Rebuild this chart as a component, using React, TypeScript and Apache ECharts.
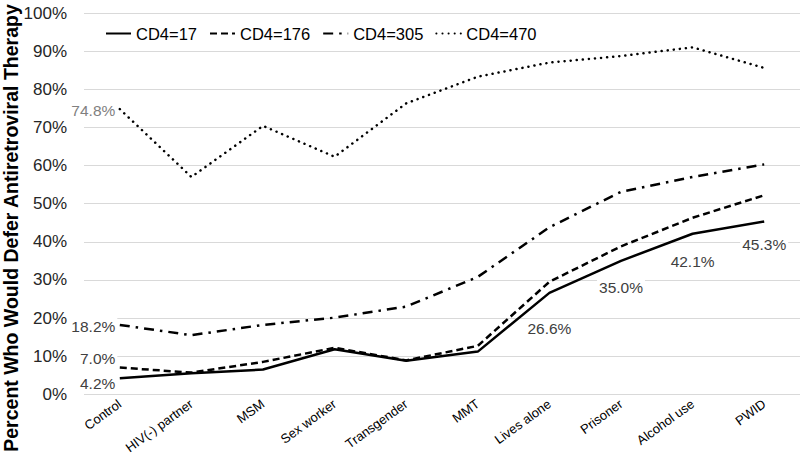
import React, { useEffect, useRef } from "react";
import * as echarts from "echarts";

const categories = ["Control", "HIV(-) partner", "MSM", "Sex worker", "Transgender", "MMT", "Lives alone", "Prisoner", "Alcohol use", "PWID"];
const seriesNames = ["CD4=17", "CD4=176", "CD4=305", "CD4=470"];
const cd4_17 = [4.2, 5.5, 6.5, 11.8, 8.8, 11.2, 26.6, 35.0, 42.1, 45.3];
const cd4_176 = [7.0, 5.7, 8.5, 12.2, 8.9, 12.7, 29.5, 38.8, 46.3, 52.2];
const cd4_305 = [18.2, 15.5, 18.2, 20.1, 23.0, 30.8, 43.8, 53.1, 57.0, 60.3];
const cd4_470 = [74.8, 57.0, 70.4, 62.3, 76.3, 83.3, 87.0, 88.7, 91.0, 85.6];
const yTicks = [0, 10, 20, 30, 40, 50, 60, 70, 80, 90, 100];

export default function App() {
  const ref = useRef<HTMLDivElement>(null);
  useEffect(() => {
    if (!ref.current) return;
    const chart = echarts.init(ref.current, undefined, { renderer: "svg" });
    const font = "Liberation Sans, Arial, sans-serif";
    const baseLabel = {
      fontFamily: font,
      fontSize: 15.5,
      color: "#404040",
      backgroundColor: "#ffffff",
      padding: [1, 2],
    };
    const leftLabel = (dy: number, color = "#404040") => ({
      show: true,
      position: "left",
      distance: 2,
      offset: [0, dy],
      formatter: (p: any) => Number(p.value).toFixed(1) + "%",
      ...baseLabel,
      color,
    });
    const belowLabel = (dy: number) => ({
      show: true,
      position: "inside",
      offset: [0, dy],
      formatter: (p: any) => Number(p.value).toFixed(1) + "%",
      ...baseLabel,
    });
    const makeData = (vals: number[], labels: Record<number, any>) =>
      vals.map((v, i) => (labels[i] ? { value: v, label: labels[i] } : { value: v, label: { show: false } }));

    const common = {
      type: "line",
      symbol: "circle",
      symbolSize: 1,
      showSymbol: true,
      itemStyle: { color: "rgba(0,0,0,0)" },
      z: 2,
    };

    chart.setOption({
      animation: false,
      grid: { left: 84, right: 0, top: 13, bottom: 62.7, containLabel: false, outerBoundsMode: "none" },
      legend: {
        top: 20,
        left: 100,
        itemWidth: 25,
        itemHeight: 14,
        itemGap: 12,
        textStyle: { fontFamily: font, fontSize: 16.5, color: "#000000" },
        data: seriesNames,
      },
      xAxis: {
        type: "category",
        data: categories,
        boundaryGap: true,
        axisLine: { show: false },
        axisTick: { show: false },
        axisLabel: {
          rotate: 36,
          interval: 0,
          fontFamily: font,
          fontSize: 13,
          color: "#000000",
          margin: 8,
        },
      },
      yAxis: {
        type: "value",
        min: 0,
        max: 100,
        interval: 10,
        axisLine: { show: false },
        axisTick: { show: false },
        splitLine: { lineStyle: { color: "#d9d9d9", width: 1 } },
        axisLabel: {
          formatter: (v: number) => (yTicks.includes(v) ? v + "%" : ""),
          fontFamily: font,
          fontSize: 17,
          color: "#262626",
          margin: 17,
        },
      },
      graphic: [
        {
          type: "text",
          x: 11,
          y: 228,
          rotation: Math.PI / 2,
          style: {
            text: "Percent Who Would Defer Antiretroviral Therapy",
            fontFamily: font,
            fontSize: 19.5,
            fontWeight: "bold",
            fill: "#000000",
            textAlign: "center",
            textVerticalAlign: "middle",
          },
        },
      ],
      series: [
        {
          ...common,
          name: seriesNames[0],
          lineStyle: { color: "#000000", width: 2.5, type: "solid" },
          data: makeData(cd4_17, {
            0: leftLabel(5),
            6: belowLabel(36),
            7: belowLabel(27),
            8: belowLabel(28),
            9: belowLabel(22.5),
          }),
        },
        {
          ...common,
          name: seriesNames[1],
          lineStyle: { color: "#000000", width: 2.5, type: [7, 4] },
          data: makeData(cd4_176, { 0: leftLabel(-9) }),
        },
        {
          ...common,
          name: seriesNames[2],
          lineStyle: { color: "#000000", width: 2.5, type: [10, 6, 2.5, 6], cap: "butt" },
          data: makeData(cd4_305, { 0: leftLabel(2) }),
        },
        {
          ...common,
          name: seriesNames[3],
          lineStyle: { color: "#000000", width: 2.5, type: [0.1, 6], cap: "round" },
          data: makeData(cd4_470, { 0: leftLabel(1, "#808080") }),
        },
      ],
    } as any);
    return () => chart.dispose();
  }, []);
  return <div ref={ref} style={{ width: 800, height: 457, position: "absolute", left: 0, top: 0 }} />;
}
